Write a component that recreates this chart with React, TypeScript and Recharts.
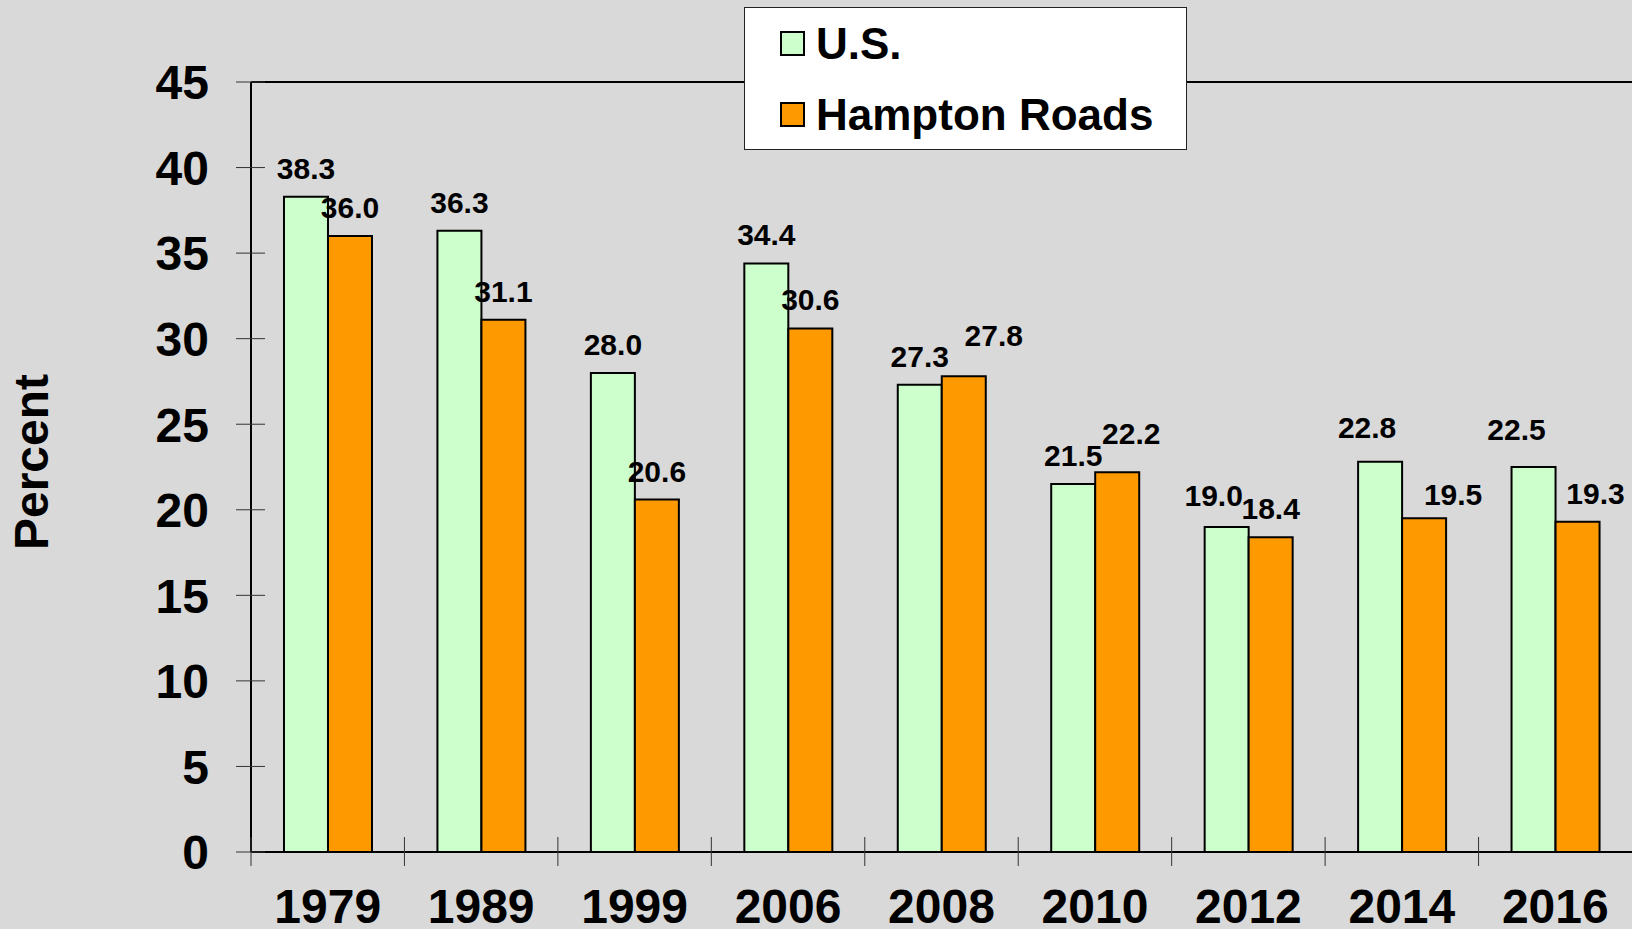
import React from 'react';
import { BarChart, Bar, XAxis, YAxis, LabelList, Legend, ReferenceLine } from 'recharts';

const years = ['1979', '1989', '1999', '2006', '2008', '2010', '2012', '2014', '2016'];
const usValues = [38.3, 36.3, 28.0, 34.4, 27.3, 21.5, 19.0, 22.8, 22.5];
const hamptonValues = [36.0, 31.1, 20.6, 30.6, 27.8, 22.2, 18.4, 19.5, 19.3];
const yTicks = [0, 5, 10, 15, 20, 25, 30, 35, 40, 45];
const seriesNames = ['U.S.', 'Hampton Roads'];

// hand-placed label nudges (dx, dy) as in the original
const usLabelShift = [[0, 0], [0, 0], [0, 0], [0, 0], [0, 0], [0, 0], [-13, -3], [-13, -6], [-17, -9]];
const hamptonLabelShift = [[0, 0], [0, 0], [0, 0], [0, 0], [30, -12], [14, -10], [0, 0], [29, 5], [18, 0]];

const data = years.map((year, i) => ({ year, us: usValues[i], hampton: hamptonValues[i] }));

const W = 1632;
const H = 929;
const Y_AXIS_W = 251;
const X_AXIS_H = 77;
const TOP = 82;
const FONT = '"Liberation Sans", Arial, Helvetica, sans-serif';
const bandHalf = (W - Y_AXIS_W) / years.length / 2;

const YTick = (props: any) => {
  const { x, y, payload } = props;
  return (
    <g>
      <line x1={x - 15} x2={x + 14} y1={y} y2={y} stroke="#333" strokeWidth={1} />
      <text x={x - 42} y={y} dy="0.36em" textAnchor="end" fontFamily={FONT} fontWeight="bold" fontSize={48} fill="#000">
        {payload.value}
      </text>
    </g>
  );
};

const XTick = (props: any) => {
  const { x, y, payload } = props;
  const bx = x - bandHalf;
  return (
    <g>
      <line x1={bx} x2={bx} y1={y - 15} y2={y + 14} stroke="#333" strokeWidth={1} />
      <text x={x} y={y + 71} textAnchor="middle" fontFamily={FONT} fontWeight="bold" fontSize={48} fill="#000">
        {payload.value}
      </text>
    </g>
  );
};

const makeLabel = (shifts: number[][]) => (props: any) => {
  const { x, y, width, value, index } = props;
  const [dx, dy] = shifts[index] || [0, 0];
  return (
    <text x={x + width / 2 + dx} y={y - 18 + dy} textAnchor="middle" fontFamily={FONT} fontWeight="bold" fontSize={30} fill="#000">
      {Number(value).toFixed(1)}
    </text>
  );
};

const renderPercent = (props: any) => {
  const vb = props.viewBox;
  const x = vb.x + 48;
  const y = vb.y + vb.height / 2 - 5;
  return (
    <text x={x} y={y} transform={`rotate(-90, ${x}, ${y})`} textAnchor="middle" fontFamily={FONT} fontWeight="bold" fontSize={48} fill="#000">
      Percent
    </text>
  );
};

const LegendBox = (props: any) => {
  const items = [...(props.payload || [])].sort(
    (a: any, b: any) => seriesNames.indexOf(a.value) - seriesNames.indexOf(b.value)
  );
  return (
    <div
      style={{
        width: 443,
        height: 143,
        boxSizing: 'border-box',
        background: '#fff',
        border: '1px solid #222',
        paddingLeft: 35,
        fontFamily: FONT,
        fontWeight: 'bold',
        fontSize: 44,
        color: '#000',
      }}
    >
      {items.map((it: any) => (
        <div key={it.value} style={{ height: 71, display: 'flex', alignItems: 'center' }}>
          <span
            style={{
              width: 25,
              height: 25,
              boxSizing: 'border-box',
              border: '2px solid #000',
              background: it.color,
              marginRight: 11,
              flexShrink: 0,
            }}
          />
          <span style={{ lineHeight: 1, whiteSpace: 'nowrap' }}>{it.value}</span>
        </div>
      ))}
    </div>
  );
};

export default function App() {
  return (
    <div style={{ position: 'absolute', left: 0, top: 0, width: W, height: H, background: '#d9d9d9', fontFamily: FONT }}>
      <BarChart width={W} height={H} data={data} margin={{ top: TOP, right: 0, bottom: 0, left: 0 }} barCategoryGap="21.5%" barGap={0}>
        <XAxis
          dataKey="year"
          height={X_AXIS_H}
          interval={0}
          tickLine={false}
          tickSize={0}
          tickMargin={0}
          axisLine={{ stroke: '#000', strokeWidth: 2 }}
          tick={<XTick />}
        />
        <YAxis
          width={Y_AXIS_W}
          domain={[0, 45]}
          ticks={yTicks}
          interval={0}
          tickLine={false}
          tickSize={0}
          tickMargin={0}
          axisLine={{ stroke: '#000', strokeWidth: 2 }}
          tick={<YTick />}
          label={renderPercent}
        />
        <ReferenceLine y={45} stroke="#000" strokeWidth={2} />
        <Legend
          layout="vertical"
          align="center"
          verticalAlign="middle"
          wrapperStyle={{ left: 744, top: 7, width: 443, height: 143 }}
          content={(p: any) => <LegendBox payload={p.payload} />}
        />
        <Bar dataKey="us" name="U.S." fill="#ccffcc" stroke="#000" strokeWidth={2} isAnimationActive={false}>
          <LabelList dataKey="us" content={makeLabel(usLabelShift)} />
        </Bar>
        <Bar dataKey="hampton" name="Hampton Roads" fill="#ff9900" stroke="#000" strokeWidth={2} isAnimationActive={false}>
          <LabelList dataKey="hampton" content={makeLabel(hamptonLabelShift)} />
        </Bar>
      </BarChart>
    </div>
  );
}
